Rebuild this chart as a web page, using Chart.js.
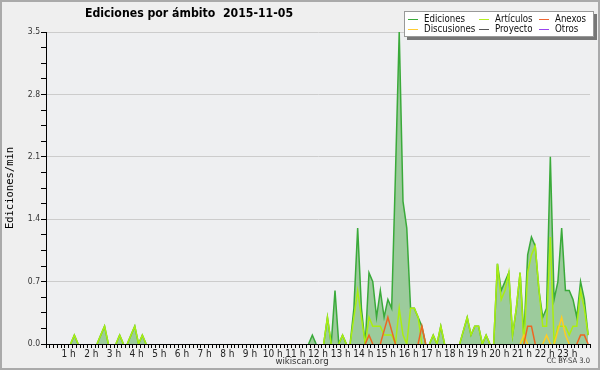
<!DOCTYPE html>
<html>
<head>
<meta charset="utf-8">
<script src="https://cdn.jsdelivr.net/npm/chart.js@4/dist/chart.umd.min.js"></script>
<style>
  body { margin: 0; background: #fff; }
  #wrap { position: relative; width: 600px; height: 370px; background: #efefef; overflow: hidden; }
  #c { position: absolute; left: 0; top: 0; }
  #frame { position: absolute; left: 0; top: 0; width: 600px; height: 370px; box-sizing: border-box; border: 2px solid #aaa; pointer-events: none; }
  .cond { font-family: "DejaVu Sans Condensed", "DejaVu Sans", sans-serif; font-stretch: condensed; }
  #title { position: absolute; left: 85px; top: 5px; font-size: 12.2px; font-weight: bold; line-height: 16px; color: #000; white-space: pre; }
  #legend { position: absolute; left: 404px; top: 11px; width: 190px; height: 26px; box-sizing: border-box; background: #fff; border: 1px solid #999; box-shadow: 3px 3px 0 #777; }
  #legend .ln { position: absolute; width: 10px; height: 1px; }
  #legend .tx { position: absolute; font-size: 9.6px; line-height: 11px; color: #111; white-space: nowrap; }
  #site { position: absolute; left: 0; width: 600px; top: 355px; text-align: center; font-size: 9.5px; color: #333; padding-left: 2px; }
  #cc { position: absolute; right: 10px; top: 356px; font-size: 7.5px; color: #333; }
</style>
</head>
<body>
<div id="wrap">
  <canvas id="c" width="600" height="370"></canvas>
  <div id="title" class="cond">Ediciones por ámbito  2015-11-05</div>
  <div id="legend" class="cond"></div>
  <div id="site" class="cond">wikiscan.org</div>
  <div id="cc" class="cond">CC BY-SA 3.0</div>
  <div id="frame"></div>
</div>
<script>
// edits per minute, one value per 10-minute slot (6 per hour)
const ediciones = [
  [0, 0, 0, 0, 0, 0],        // 0 h
  [0, 0.1, 0, 0, 0, 0],      // 1 h
  [0, 0, 0.1, 0.2, 0, 0],    // 2 h
  [0, 0.1, 0, 0, 0.1, 0.2],  // 3 h
  [0, 0.1, 0, 0, 0, 0],      // 4 h
  [0, 0, 0, 0, 0, 0],        // 5 h
  [0, 0, 0, 0, 0, 0],        // 6 h
  [0, 0, 0, 0, 0, 0],        // 7 h
  [0, 0, 0, 0, 0, 0],        // 8 h
  [0, 0, 0, 0, 0, 0],        // 9 h
  [0, 0, 0, 0, 0, 0],        // 10 h
  [0, 0, 0, 0, 0.1, 0],      // 11 h
  [0, 0, 0.3, 0, 0.6, 0],    // 12 h
  [0.1, 0, 0, 0.4, 1.3, 0.4],// 13 h
  [0, 0.8, 0.7, 0.3, 0.6, 0.3],
  [0.5, 0.4, 1.9, 3.5, 1.6, 1.3],
  [0.4, 0.4, 0.3, 0.2, 0, 0],
  [0.1, 0, 0.2, 0, 0, 0],
  [0, 0, 0.15, 0.3, 0.1, 0.2],
  [0.2, 0, 0.1, 0, 0, 0.9],
  [0.6, 0.7, 0.8, 0.1, 0.4, 0.8],
  [0.1, 1.0, 1.2, 1.1, 0.6, 0.3],
  [0.4, 2.1, 0.5, 0.7, 1.3, 0.6],
  [0.6, 0.5, 0.3, 0.7, 0.5, 0.1]
].flat();

const articulos = [
  [0, 0, 0, 0, 0, 0],
  [0, 0.1, 0, 0, 0, 0],
  [0, 0, 0.1, 0.2, 0, 0],
  [0, 0.1, 0, 0, 0.1, 0.2],
  [0, 0.1, 0, 0, 0, 0],
  [0, 0, 0, 0, 0, 0],
  [0, 0, 0, 0, 0, 0],
  [0, 0, 0, 0, 0, 0],
  [0, 0, 0, 0, 0, 0],
  [0, 0, 0, 0, 0, 0],
  [0, 0, 0, 0, 0, 0],
  [0, 0, 0, 0, 0, 0],
  [0, 0, 0.3, 0, 0, 0],
  [0.1, 0, 0, 0.3, 0.6, 0.3],
  [0, 0.3, 0.2, 0.2, 0.2, 0.1],
  [0.1, 0.1, 0, 0.4, 0.1, 0],
  [0.4, 0.4, 0.3, 0, 0, 0],
  [0.1, 0, 0.2, 0, 0, 0],
  [0, 0, 0.15, 0.3, 0.1, 0.2],
  [0.2, 0, 0.1, 0, 0, 0.9],
  [0.5, 0.6, 0.8, 0.1, 0.4, 0.8],
  [0, 0.8, 1.0, 1.1, 0.6, 0.2],
  [0.2, 1.2, 0, 0.2, 0.2, 0.2],
  [0.1, 0.2, 0.2, 0.6, 0.4, 0.1]
].flat();

const anexos = [
  [0, 0, 0, 0, 0, 0], [0, 0, 0, 0, 0, 0], [0, 0, 0, 0, 0, 0], [0, 0, 0, 0, 0, 0],
  [0, 0, 0, 0, 0, 0], [0, 0, 0, 0, 0, 0], [0, 0, 0, 0, 0, 0], [0, 0, 0, 0, 0, 0],
  [0, 0, 0, 0, 0, 0], [0, 0, 0, 0, 0, 0], [0, 0, 0, 0, 0, 0], [0, 0, 0, 0, 0, 0],
  [0, 0, 0, 0, 0, 0], [0, 0, 0, 0, 0, 0],
  [0, 0.1, 0, 0, 0, 0.15],   // 14 h
  [0.3, 0.15, 0, 0, 0, 0],   // 15 h
  [0, 0, 0, 0.2, 0, 0],      // 16 h
  [0, 0, 0, 0, 0, 0], [0, 0, 0, 0, 0, 0], [0, 0, 0, 0, 0, 0], [0, 0, 0, 0, 0, 0],
  [0, 0.2, 0.2, 0, 0, 0],    // 21 h
  [0, 0, 0, 0, 0, 0],
  [0, 0, 0, 0.1, 0.1, 0]     // 23 h
].flat();

const discusiones = [
  [0, 0, 0, 0, 0, 0], [0, 0, 0, 0, 0, 0], [0, 0, 0, 0, 0, 0], [0, 0, 0, 0, 0, 0],
  [0, 0, 0, 0, 0, 0], [0, 0, 0, 0, 0, 0], [0, 0, 0, 0, 0, 0], [0, 0, 0, 0, 0, 0],
  [0, 0, 0, 0, 0, 0], [0, 0, 0, 0, 0, 0], [0, 0, 0, 0, 0, 0], [0, 0, 0, 0, 0, 0],
  [0, 0, 0, 0, 0, 0], [0, 0, 0, 0, 0, 0], [0, 0, 0, 0, 0, 0], [0, 0, 0, 0, 0, 0],
  [0, 0, 0, 0, 0, 0], [0, 0, 0, 0, 0, 0], [0, 0, 0, 0, 0, 0], [0, 0, 0, 0, 0, 0],
  [0, 0, 0, 0, 0, 0],
  [0.1, 0, 0, 0, 0, 0],      // 21 h
  [0.1, 0, 0, 0.15, 0.3, 0.1], // 22 h
  [0, 0, 0, 0, 0, 0]
].flat();

const yTicks = [0, 0.7, 1.4, 2.1, 2.8, 3.5];

const legendItems = [
  { label: "Ediciones", color: "#3aaa3a", col: 0, row: 0 },
  { label: "Artículos", color: "#b4ee22", col: 1, row: 0 },
  { label: "Anexos", color: "#ee6633", col: 2, row: 0 },
  { label: "Discusiones", color: "#ffcc33", col: 0, row: 1 },
  { label: "Proyecto", color: "#555555", col: 1, row: 1 },
  { label: "Otros", color: "#9944ee", col: 2, row: 1 }
];

// build legend
const legend = document.getElementById("legend");
const colX = [3, 74, 134];
legendItems.forEach(item => {
  const y = 7 + item.row * 10;
  const ln = document.createElement("div");
  ln.className = "ln";
  ln.style.left = colX[item.col] + "px";
  ln.style.top = y + "px";
  ln.style.background = item.color;
  legend.appendChild(ln);
  const tx = document.createElement("div");
  tx.className = "tx";
  tx.textContent = item.label;
  tx.style.left = (colX[item.col] + 16) + "px";
  tx.style.top = (y - 6) + "px";
  legend.appendChild(tx);
});

function toPoints(values) {
  return values.map((v, i) => ({ x: i * 10 + 5, y: v }));
}

const hideFlat = {
  borderColor: ctx => (ctx.p0.parsed.y === 0 && ctx.p1.parsed.y === 0) ? "rgba(0,0,0,0)" : undefined
};

function isMajor(v) {
  return yTicks.some(t => Math.abs(t - v) < 1e-6);
}

const plotBg = {
  id: "plotBg",
  beforeDraw(chart) {
    const { ctx, chartArea: a } = chart;
    ctx.save();
    ctx.fillStyle = "#eeeff1";
    ctx.fillRect(a.left, a.top, a.right - a.left, a.bottom - a.top);
    ctx.restore();
  }
};

const condensed = "'DejaVu Sans Condensed', 'DejaVu Sans', sans-serif";

new Chart(document.getElementById("c"), {
  type: "line",
  data: {
    datasets: [
      {
        label: "Ediciones",
        data: toPoints(ediciones),
        borderColor: "#3aaa3a",
        backgroundColor: "#9ccb9c",
        borderWidth: 1.5,
        fill: "origin",
        order: 4,
        segment: hideFlat
      },
      {
        label: "Artículos",
        data: toPoints(articulos),
        borderColor: "#aaee11",
        borderWidth: 1.5,
        fill: false,
        order: 3,
        segment: hideFlat
      },
      {
        label: "Discusiones",
        data: toPoints(discusiones),
        borderColor: "#ffcc22",
        borderWidth: 1.5,
        fill: false,
        order: 2,
        segment: hideFlat
      },
      {
        label: "Anexos",
        data: toPoints(anexos),
        borderColor: "#ee6622",
        borderWidth: 1.5,
        fill: false,
        order: 1,
        segment: hideFlat
      }
    ]
  },
  options: {
    responsive: false,
    animation: false,
    layout: { padding: { top: 32, right: 10, left: 0, bottom: 0 } },
    plugins: { legend: { display: false }, tooltip: { enabled: false } },
    elements: { point: { radius: 0 }, line: { tension: 0 } },
    scales: {
      x: {
        type: "linear",
        min: 0,
        max: 1440,
        z: 1,
        afterFit(s) { s.height = 26; },
        border: { color: "#000", width: 1 },
        grid: { drawOnChartArea: false, tickLength: 4, tickColor: "#000" },
        ticks: {
          stepSize: 10,
          autoSkip: false,
          maxRotation: 0,
          minRotation: 0,
          padding: 0,
          color: "#222",
          font: { family: condensed, size: 10 },
          callback: v => (v > 0 && v < 1440 && v % 60 === 0) ? (v / 60) + " h" : ""
        }
      },
      y: {
        min: 0,
        max: 3.5,
        afterFit(s) { s.width = 46; },
        border: { color: "#000", width: 1 },
        grid: {
          color: ctx => (ctx.tick && isMajor(ctx.tick.value)) ? "#cccccc" : "rgba(0,0,0,0)",
          tickColor: "#000",
          tickLength: 5
        },
        ticks: {
          stepSize: 0.175,
          autoSkip: false,
          padding: 1,
          color: "#333",
          font: { family: condensed, size: 8.5 },
          callback: v => isMajor(v) ? v.toFixed(1) : ""
        },
        title: {
          display: true,
          text: "Ediciones/min",
          color: "#000",
          font: { family: "'DejaVu Sans Mono', monospace", size: 10.5 },
          padding: { top: 4, bottom: 0 }
        }
      }
    }
  },
  plugins: [plotBg]
});
</script>
</body>
</html>
